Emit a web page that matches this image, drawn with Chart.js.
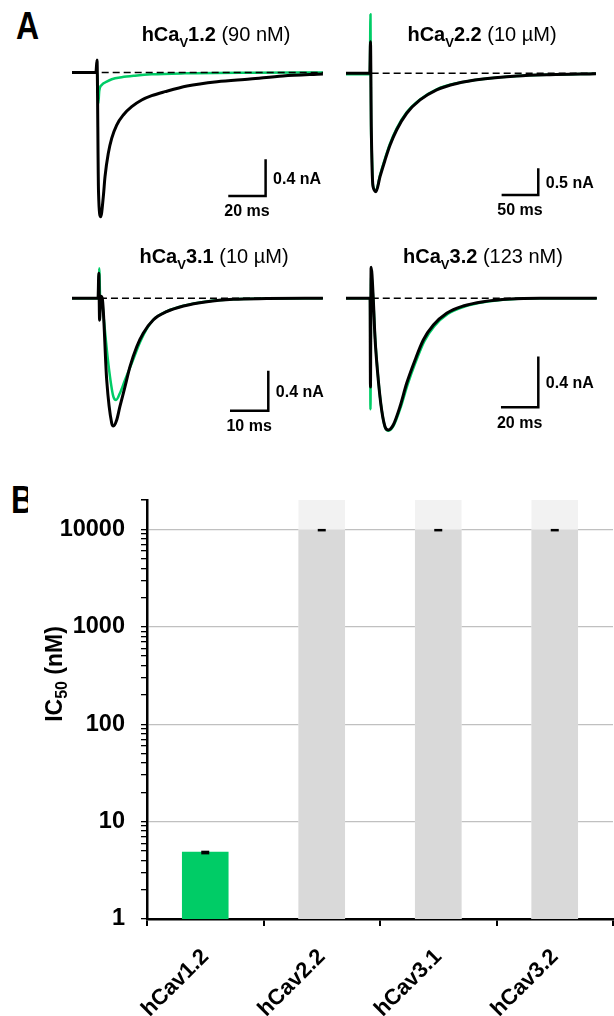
<!DOCTYPE html>
<html>
<head>
<meta charset="utf-8">
<script src="https://cdn.jsdelivr.net/npm/chart.js@4.4.1/dist/chart.umd.min.js"></script>
<style>
body{margin:0;background:#fff;width:614px;height:1016px;position:relative;overflow:hidden;font-family:"Liberation Sans",Arial,sans-serif;color:#000}
canvas{position:absolute}
.ttl{position:absolute;width:240px;font-size:20px;line-height:20px;white-space:nowrap;text-align:center;z-index:2}
.sub{font-size:13px;position:relative;top:6px}
.letter{position:absolute;font-weight:bold;font-size:32px;line-height:32px;transform:scaleY(1.22);transform-origin:top left;overflow:hidden;white-space:nowrap}
</style>
</head>
<body>
<div class="letter" style="left:16px;top:6px">A</div>
<div class="letter" style="left:11px;top:480px;width:17px">B</div>

<div class="ttl" style="left:96px;top:24px"><b>hCa<span class="sub">V</span>1.2</b> (90 nM)</div>
<div class="ttl" style="left:362px;top:24px"><b>hCa<span class="sub">V</span>2.2</b> (10 µM)</div>
<div class="ttl" style="left:94px;top:246px"><b>hCa<span class="sub">V</span>3.1</b> (10 µM)</div>
<div class="ttl" style="left:363px;top:246px"><b>hCa<span class="sub">V</span>3.2</b> (123 nM)</div>

<canvas id="cav12"></canvas>
<canvas id="cav22"></canvas>
<canvas id="cav31"></canvas>
<canvas id="cav32"></canvas>
<canvas id="ic50"></canvas>

<script>
const FONT = '"Liberation Sans", Arial, sans-serif';

// A: current traces, [time ms, current nA]; black = control, green = compound
const cav12Ctrl = [[0,0],[12.8,0],[13.4,0.136],[14.2,-1.3],[15.37,-1.573],[16.77,-1.354],[17.68,-1.136],[19.44,-0.881],[21.26,-0.718],[23.94,-0.573],[27.48,-0.463],[31.98,-0.373],[37.33,-0.30],[42.69,-0.253],[49.81,-0.209],[61.6,-0.147],[77.7,-0.100],[95.3,-0.071],[113,-0.038],[134.4,-0.016]];
const cav12Drug = [[0,0],[13.6,0],[14.1,-0.336],[14.6,-0.2],[15.9,-0.136],[18.6,-0.100],[21.3,-0.074],[26.6,-0.052],[33.7,-0.035],[42.7,-0.020],[60.5,-0.009],[95.3,-0.002],[134.4,0]];

const cav22Ctrl = [[0,0],[32.5,0],[33.4,0.59],[34.5,-1.0],[36.8,-2.12],[40.9,-2.22],[46.4,-1.94],[53.2,-1.63],[60.0,-1.35],[69.2,-1.06],[82.8,-0.75],[101,-0.50],[123.7,-0.31],[151,-0.19],[187,-0.107],[233,-0.051],[278,-0.026],[341,-0.008]];
const cav22Drug = [[0,-0.02],[32.5,-0.02],[33.4,1.11],[34.2,-1.06],[34.8,-1.3],[36.8,-2.1],[40.9,-2.2],[46.4,-1.91],[53.2,-1.6],[60.0,-1.32],[69.2,-1.03],[82.8,-0.73],[101,-0.49],[123.7,-0.30],[151,-0.185],[187,-0.105],[233,-0.05],[278,-0.026],[341,-0.01]];

const cav31Ctrl = [[0,0],[6.8,0],[7.0,0.25],[7.2,-0.22],[7.5,0.02],[7.9,0],[9.06,-0.817],[10.37,-1.25],[10.8,-1.277],[11.67,-1.217],[12.5,-1.084],[13.84,-0.884],[15.14,-0.684],[16.9,-0.484],[18.6,-0.35],[21.2,-0.217],[24.7,-0.134],[29.1,-0.077],[35.2,-0.034],[42.1,-0.01],[50.8,-0.003],[65.5,0]];
const cav31Drug = [[0,0],[6.9,0],[7.1,0.3],[7.4,-0.05],[7.8,0],[8.17,-0.15],[9.48,-0.65],[10.8,-0.984],[11.5,-1.017],[12.5,-0.95],[13.84,-0.817],[15.6,-0.65],[17.75,-0.44],[19.5,-0.305],[21.2,-0.215],[24.7,-0.132],[29.1,-0.075],[35.2,-0.032],[42.1,-0.01],[50.8,-0.002],[65.5,0]];

const cav32Ctrl = [[0,0],[12.9,0],[13.1,-0.70],[13.45,0.245],[14.6,0.0],[15.5,-0.303],[17.3,-0.645],[19.1,-0.882],[20.9,-1.013],[22.7,-1.039],[25.3,-1.0],[28.9,-0.856],[32.5,-0.671],[37.0,-0.487],[41.4,-0.329],[46.8,-0.211],[53.9,-0.118],[62.8,-0.061],[73.5,-0.027],[87.8,-0.006],[103.9,0],[134.3,0]];
const cav32Drug = [[0,0],[12.9,0],[13.1,-0.876],[13.45,0.18],[14.6,-0.01],[15.6,-0.31],[17.4,-0.655],[19.2,-0.89],[21.0,-1.02],[22.8,-1.045],[25.5,-1.005],[29.2,-0.865],[32.9,-0.685],[37.4,-0.5],[41.9,-0.34],[47.3,-0.22],[54.5,-0.124],[63.5,-0.065],[74.2,-0.029],[88.5,-0.007],[104.5,0],[134.3,0]];

// scale bars [ms, nA]
const cav12Bar = [20, 0.4];
const cav22Bar = [50, 0.5];
const cav31Bar = [10, 0.4];
const cav32Bar = [20, 0.4];

// B: IC50 values (nM)
const channels = ['hCav1.2', 'hCav2.2', 'hCav3.1', 'hCav3.2'];
const ic50 = [4.9, 10000, 10000, 10000];
const ic50Err = [0.07, 0, 0, 0];
const ic50Above = [null, 20000, 20000, 20000];
const yLabels = [1, 10, 100, 1000, 10000];

const GREEN = '#00cc66';

Chart.defaults.font.family = FONT;
Chart.defaults.color = '#000';

function pts(arr) { return arr.map(p => ({x: p[0], y: p[1]})); }

// box = canvas position, o = pixel of t=0 / baseline and px per unit, bar corner in data units
function tracePanel(id, box, o, ctrl, drug, dashFrom, bar, corner) {
  const cv = document.getElementById(id);
  cv.width = box.w; cv.height = box.h;
  cv.style.left = box.left + 'px'; cv.style.top = box.top + 'px';
  const xmin = -(o.x0 - box.left) / o.pxMs;
  const xmax = xmin + box.w / o.pxMs;
  const ymax = (o.y0 - box.top) / o.pxNA;
  const ymin = ymax - box.h / o.pxNA;
  const tEnd = ctrl[ctrl.length - 1][0];

  const scaleBar = {
    id: 'scaleBar',
    afterDatasetsDraw(chart) {
      const sx = chart.scales.x, sy = chart.scales.y, ctx = chart.ctx;
      const x1 = sx.getPixelForValue(corner[0]), x0 = sx.getPixelForValue(corner[0] - bar[0]);
      const y1 = sy.getPixelForValue(corner[1]), y0 = sy.getPixelForValue(corner[1] + bar[1]);
      ctx.save();
      ctx.strokeStyle = '#000'; ctx.lineWidth = 2.5; ctx.lineJoin = 'miter';
      ctx.beginPath(); ctx.moveTo(x0, y1); ctx.lineTo(x1, y1); ctx.lineTo(x1, y0); ctx.stroke();
      ctx.fillStyle = '#000';
      ctx.font = 'bold 16px ' + FONT;
      ctx.textBaseline = 'middle';
      ctx.textAlign = 'left';
      ctx.fillText(bar[1] + ' nA', x1 + 7.5, (y0 + y1) / 2 + 1.5);
      ctx.textAlign = 'center';
      ctx.fillText(bar[0] + ' ms', (x0 + x1) / 2, y1 + 16);
      ctx.restore();
    }
  };

  new Chart(cv, {
    type: 'line',
    data: {
      datasets: [
        {data: [{x: dashFrom, y: 0}, {x: tEnd, y: 0}], borderColor: '#000', borderWidth: 1.5, borderDash: [7, 4], order: 0},
        {data: pts(ctrl), borderColor: '#000', borderWidth: 3, cubicInterpolationMode: 'monotone', order: 1},
        {data: pts(drug), borderColor: GREEN, borderWidth: 2.5, cubicInterpolationMode: 'monotone', order: 2}
      ]
    },
    options: {
      responsive: false,
      animation: false,
      events: [],
      layout: {padding: 0},
      elements: {point: {radius: 0}, line: {borderJoinStyle: 'round', borderCapStyle: 'butt'}},
      datasets: {line: {clip: false}},
      plugins: {legend: {display: false}, tooltip: {enabled: false}},
      scales: {
        x: {type: 'linear', display: false, min: xmin, max: xmax},
        y: {type: 'linear', display: false, min: ymin, max: ymax}
      }
    },
    plugins: [scaleBar]
  });
}

tracePanel('cav12', {left: 62, top: 40, w: 268, h: 190}, {x0: 72, pxMs: 1.867, y0: 72.5, pxNA: 91.7},
  cav12Ctrl, cav12Drug, 15.9, cav12Bar, [103.7, -1.347]);
tracePanel('cav22', {left: 336, top: 0, w: 270, h: 230}, {x0: 346, pxMs: 0.733, y0: 73.3, pxNA: 53.3},
  cav22Ctrl, cav22Drug, 35, cav22Bar, [262.3, -2.283]);
tracePanel('cav31', {left: 62, top: 250, w: 268, h: 195}, {x0: 72, pxMs: 3.83, y0: 298.3, pxNA: 100},
  cav31Ctrl, cav31Drug, 7.3, cav31Bar, [51.25, -1.124]);
tracePanel('cav32', {left: 336, top: 250, w: 270, h: 195}, {x0: 346, pxMs: 1.867, y0: 298.3, pxNA: 126.7},
  cav32Ctrl, cav32Drug, 13.8, cav32Bar, [103.0, -0.86]);

// ---- panel B ----
const yTickValues = [];
yLabels.forEach(d => { for (let m = 1; m <= 9; m++) if (d * m <= 20000) yTickValues.push(d * m); });
yTickValues.push(20000);

const errorBars = {
  id: 'errorBars',
  afterDatasetsDraw(chart) {
    const meta = chart.getDatasetMeta(0), y = chart.scales.y, ctx = chart.ctx;
    ctx.save();
    ctx.fillStyle = '#000';
    meta.data.forEach((bar, i) => {
      const top = y.getPixelForValue(ic50[i] + ic50Err[i]);
      const bot = y.getPixelForValue(ic50[i] - ic50Err[i]);
      ctx.fillRect(bar.x - 4, top - 0.5, 8, bot - top + 2.5);
    });
    ctx.restore();
  }
};

const yTitle = {
  id: 'yTitle',
  afterDraw(chart) {
    const ctx = chart.ctx;
    ctx.save();
    ctx.translate(62, 204);
    ctx.rotate(-Math.PI / 2);
    ctx.fillStyle = '#000';
    ctx.textBaseline = 'alphabetic';
    ctx.textAlign = 'left';
    const big = 'bold 23px ' + FONT, small = 'bold 16px ' + FONT;
    const parts = [['IC', big, 0], ['50', small, 5], [' (nM)', big, 0]];
    let w = 0;
    parts.forEach(p => { ctx.font = p[1]; w += ctx.measureText(p[0]).width; });
    let x = -w / 2;
    parts.forEach(p => { ctx.font = p[1]; ctx.fillText(p[0], x, p[2]); x += ctx.measureText(p[0]).width; });
    ctx.restore();
  }
};

const cvB = document.getElementById('ic50');
cvB.width = 614; cvB.height = 546;
cvB.style.left = '0px'; cvB.style.top = '470px';

new Chart(cvB, {
  type: 'bar',
  data: {
    labels: channels,
    datasets: [
      {label: 'IC50', data: ic50, backgroundColor: [GREEN, '#d9d9d9', '#d9d9d9', '#d9d9d9'], order: 0},
      {label: '> 10 µM', data: ic50Above, backgroundColor: '#f2f2f2', order: 1}
    ]
  },
  options: {
    responsive: false,
    animation: false,
    events: [],
    layout: {padding: {top: 28, right: 1, left: 0, bottom: 0}},
    datasets: {bar: {grouped: false, barPercentage: 0.4, categoryPercentage: 1}},
    plugins: {legend: {display: false}, tooltip: {enabled: false}},
    scales: {
      x: {
        grid: {offset: true, drawOnChartArea: false, color: '#000', tickColor: '#000', tickLength: 7, lineWidth: 2},
        border: {color: '#000', width: 2.5},
        ticks: {font: {size: 22, weight: 'bold'}, color: '#000', minRotation: 45, maxRotation: 45, padding: 18, autoSkip: false},
        afterFit(s) { s.height = 97; }
      },
      y: {
        type: 'logarithmic',
        min: 1,
        max: 20000,
        afterBuildTicks(s) { s.ticks = yTickValues.map(v => ({value: v})); },
        ticks: {
          autoSkip: false,
          padding: 16,
          color: '#000',
          font: {size: 23.5, weight: 'bold'},
          callback: v => yLabels.includes(v) ? String(v) : ''
        },
        grid: {
          color: c => (c.tick && c.tick.value > 1 && yLabels.includes(c.tick.value)) ? '#c0c0c0' : 'rgba(0,0,0,0)',
          tickColor: '#000',
          tickLength: 6,
          lineWidth: 1.3,
          tickWidth: 1.3
        },
        border: {color: '#000', width: 2.5},
        afterFit(s) { s.width = 147; }
      }
    }
  },
  plugins: [errorBars, yTitle]
});
</script>
</body>
</html>
